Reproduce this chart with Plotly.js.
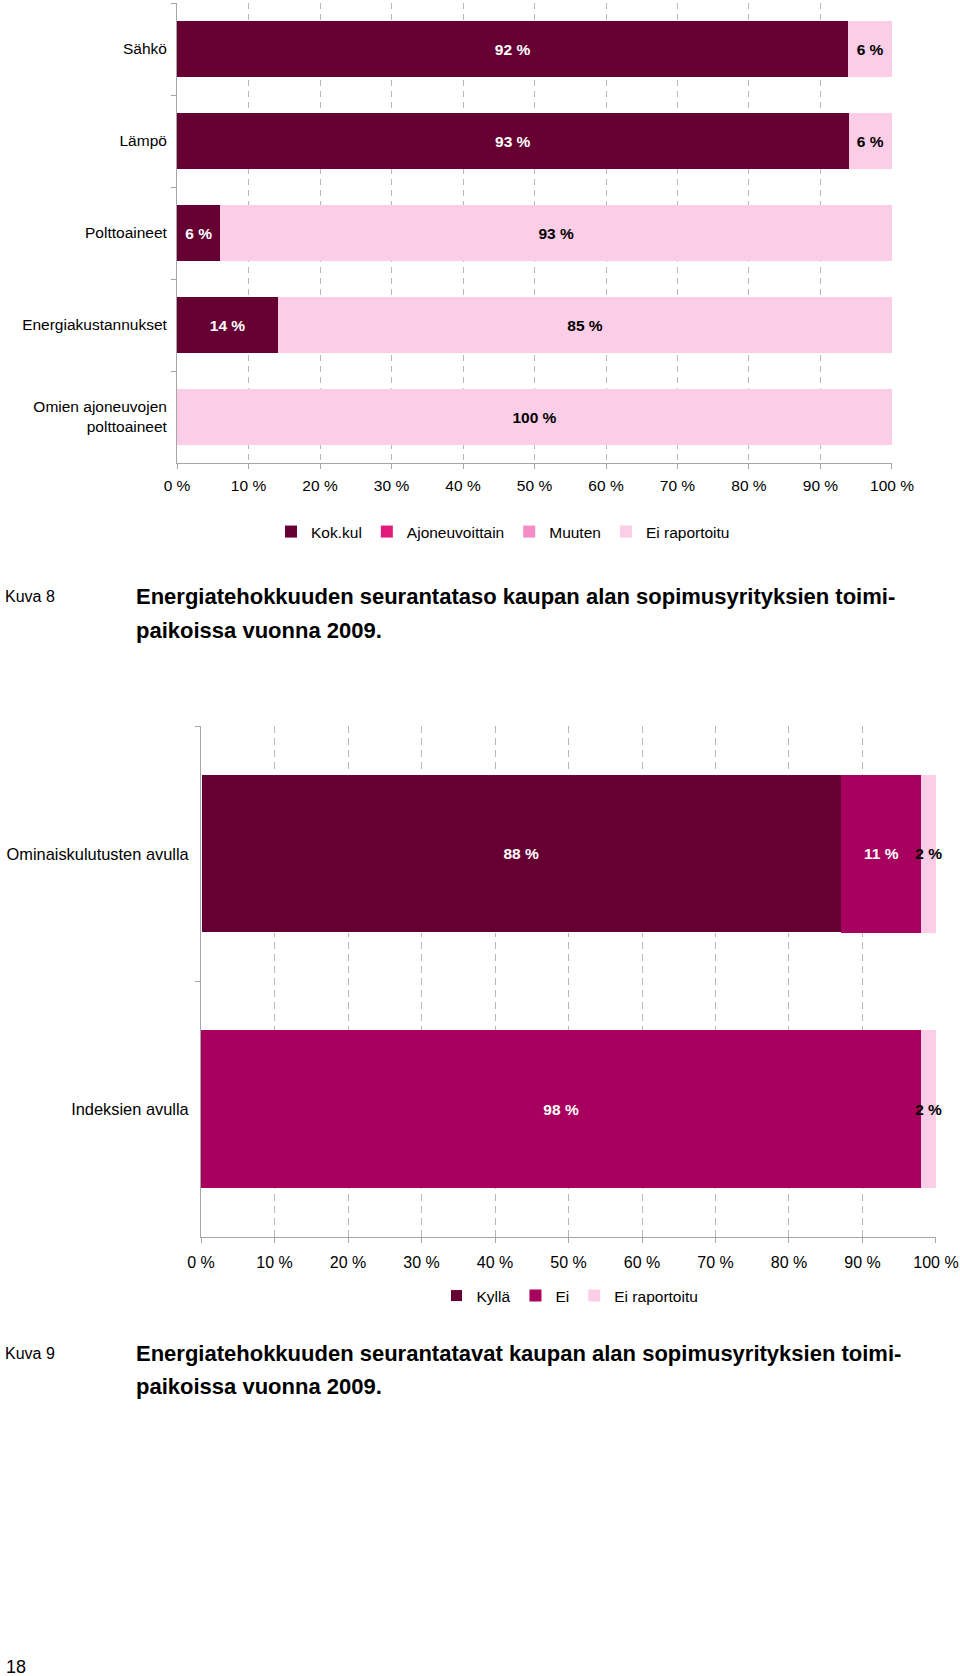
<!DOCTYPE html>
<html>
<head>
<meta charset="utf-8">
<script src="https://cdn.plot.ly/plotly-3.0.1.min.js"></script>
<style>
  html, body { margin: 0; padding: 0; background: #fff; }
  #page { width: 960px; height: 1676px; }
</style>
</head>
<body>
<div id="page"></div>
<script>
// ---- Kuva 8 data ----
const cats1 = ['Sähkö', 'Lämpö', 'Polttoaineet', 'Energiakustannukset', 'Omien ajoneuvojen<br>polttoaineet'];
const kokkul = [92, 93, 6, 14, 0];
const ajoneuvoittain = [0, 0, 0, 0, 0];
const muuten = [0, 0, 0, 0, 0];
const eiRap1 = [6, 6, 93, 85, 100];

// ---- Kuva 9 data ----
const cats2 = ['Ominaiskulutusten avulla', 'Indeksien avulla'];
const kylla = [88, 0];
const ei = [11, 98];
const eiRap2 = [2, 2];

const ticks = [0, 10, 20, 30, 40, 50, 60, 70, 80, 90, 100];

const FONT = '"Liberation Sans", Arial, sans-serif';
const DARK = '#660033', EI = '#A8005E', AJO = '#E31B7D', MUU = '#F28DC6', LIGHT = '#FCCDE6';

function pct(arr) { return arr.map(v => v > 0 ? v + ' %' : ''); }

function seg(name, cats, vals, color, txtColor, xa, ya, lg, w, edge) {
    return {
        type: 'bar', orientation: 'h', name: name,
        y: cats, x: vals, xaxis: xa, yaxis: ya, legend: lg,
        width: w,
        marker: {color: color, line: {color: '#fff', width: edge}},
        text: pct(vals), textposition: 'inside', insidetextanchor: 'middle',
        textangle: 0, cliponaxis: false,
        textfont: {family: FONT, size: 15.5, color: txtColor, weight: 700},
        hoverinfo: 'skip'
    };
}

const traces = [
    seg('Kok.kul', cats1, kokkul, DARK, '#fff', 'x', 'y', 'legend', 0.6, 0),
    seg('Ajoneuvoittain', cats1, ajoneuvoittain, AJO, '#fff', 'x', 'y', 'legend', 0.6, 0),
    seg('Muuten', cats1, muuten, MUU, '#000', 'x', 'y', 'legend', 0.6, 0),
    seg('Ei raportoitu', cats1, eiRap1, LIGHT, '#000', 'x', 'y', 'legend', 0.6, 0),
    seg('Kyllä', cats2, kylla, DARK, '#fff', 'x2', 'y2', 'legend2', 0.62, 1),
    seg('Ei', cats2, ei, EI, '#fff', 'x2', 'y2', 'legend2', 0.62, 0),
    seg('Ei raportoitu', cats2, eiRap2, LIGHT, '#000', 'x2', 'y2', 'legend2', 0.62, 0)
];

function xAxis(dom, anchor, size, standoff, dash) {
    return {
        domain: dom, anchor: anchor, range: [0, 100.001], fixedrange: true,
        tickvals: ticks, ticktext: ticks.map(t => t + ' %'),
        ticks: 'outside', ticklen: 5, tickcolor: '#a6a6a6',
        showline: true, linecolor: '#a6a6a6', linewidth: 1, zeroline: false,
        showgrid: true, gridcolor: '#b8b8b8', gridwidth: 1, griddash: dash,
        tickfont: {family: FONT, size: size, color: '#000'}, ticklabelstandoff: standoff
    };
}

function yAxis(dom, anchor, size, standoff) {
    return {
        domain: dom, anchor: anchor, type: 'category', autorange: 'reversed', fixedrange: true,
        tickson: 'boundaries', ticks: 'outside', ticklen: 5, tickcolor: '#a6a6a6',
        showline: true, linecolor: '#a6a6a6', linewidth: 1, showgrid: false, zeroline: false,
        tickfont: {family: FONT, size: size, color: '#000'}, ticklabelstandoff: standoff
    };
}

function cap(text, x, ypx, size, bold) {
    return {
        xref: 'paper', yref: 'paper', x: x / 960, y: 1 - ypx / 1676,
        xanchor: 'left', yanchor: 'middle', showarrow: false, text: text,
        font: {family: FONT, size: size, color: '#000', weight: bold ? 700 : 400}
    };
}

const layout = {
    width: 960, height: 1676,
    margin: {l: 0, r: 0, t: 0, b: 0},
    paper_bgcolor: '#fff', plot_bgcolor: '#fff',
    barmode: 'stack', barnorm: 'percent',
    uniformtext: {mode: 'show', minsize: 15.5},
    xaxis: xAxis([177 / 960, 892 / 960], 'y', 15.5, 3, '6px,5px'),
    yaxis: yAxis([1 - 463 / 1676, 1 - 3 / 1676], 'x', 15.5, 6),
    xaxis2: xAxis([201 / 960, 936 / 960], 'y2', 16, 6, '7px,5px'),
    yaxis2: yAxis([1 - 1237 / 1676, 1 - 726 / 1676], 'x2', 16.4, 8),
    legend: {
        orientation: 'h', x: 503 / 960, xanchor: 'center', y: 1 - 532 / 1676, yanchor: 'middle',
        font: {family: FONT, size: 15.5, color: '#000'}, traceorder: 'normal'
    },
    legend2: {
        orientation: 'h', x: 570 / 960, xanchor: 'center', y: 1 - 1296 / 1676, yanchor: 'middle',
        font: {family: FONT, size: 15.5, color: '#000'}, traceorder: 'normal'
    },
    showlegend: true,
    annotations: [
        cap('Kuva 8', 3, 597, 16, false),
        cap('Energiatehokkuuden seurantataso kaupan alan sopimusyrityksien toimi-', 134, 597, 22, true),
        cap('paikoissa vuonna 2009.', 134, 630, 22, true),
        cap('Kuva 9', 3, 1353, 16, false),
        cap('Energiatehokkuuden seurantatavat kaupan alan sopimusyrityksien toimi-', 134, 1353, 22, true),
        cap('paikoissa vuonna 2009.', 134, 1386, 22, true),
        cap('18', 4, 1667, 18, false)
    ]
};

Plotly.newPlot('page', traces, layout, {displayModeBar: false, staticPlot: true});
</script>
</body>
</html>
